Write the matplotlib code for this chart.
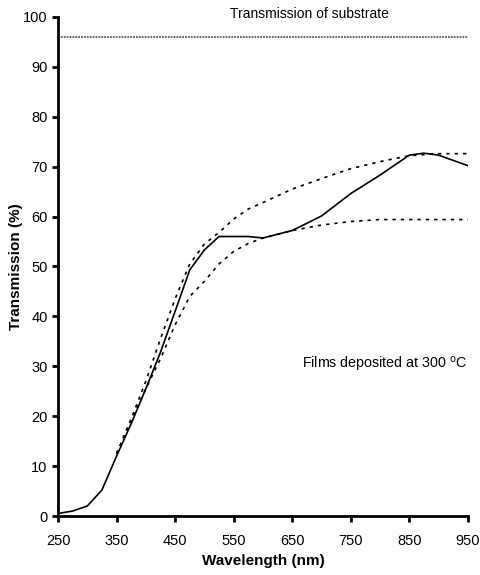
import matplotlib
matplotlib.use("Agg")
import matplotlib.pyplot as plt

plt.rcParams['font.family'] = ['Liberation Sans', 'DejaVu Sans']

# solid curve (measured film)
wl_solid = [250, 275, 300, 325, 350, 375, 400, 425, 450, 475, 500, 525, 575, 600,
            650, 700, 750, 800, 850, 875, 900, 950]
t_solid = [0.5, 1.0, 2.0, 5.2, 12.0, 18.5, 25.5, 32.8, 41.0, 49.3, 53.3, 56.0, 56.0, 55.7,
           57.2, 60.1, 64.6, 68.3, 72.3, 72.7, 72.3, 70.2]

# upper dotted fit
wl_up = [350, 375, 400, 425, 450, 475, 500, 525, 550, 575, 600, 650, 700, 750, 800, 850, 900, 950]
t_up = [12.5, 19.5, 27.0, 35.5, 43.5, 50.5, 54.5, 56.8, 59.5, 61.5, 62.8, 65.5, 67.6, 69.6,
        71.0, 72.2, 72.6, 72.6]

# lower dotted fit
wl_low = [350, 375, 400, 425, 450, 475, 500, 525, 550, 575, 600, 650, 700, 750, 800, 850, 900, 950]
t_low = [12.5, 19.0, 25.5, 31.5, 38.3, 44.0, 47.0, 50.5, 53.0, 54.6, 55.7, 57.2, 58.3, 59.0,
         59.4, 59.4, 59.4, 59.4]

substrate = 96.0

fig = plt.figure(figsize=(4.81, 5.75), dpi=100)
ax = fig.add_axes([0.1206, 0.1026, 0.852, 0.868])

ax.plot(wl_solid, t_solid, color='black', lw=1.2)
ax.plot(wl_up, t_up, color='black', lw=1.2, ls=(0, (2, 3)))
ax.plot(wl_low, t_low, color='black', lw=1.2, ls=(0, (2, 3)))
ax.axhline(substrate, color='0.35', lw=1.3, ls=(0, (1, 0.6)))

ax.text(680, 100.6, 'Transmission of substrate', ha='center', va='center', fontsize=10)
ax.text(666, 30.3, r'Films deposited at 300 $^{\rm o}$C', ha='left', va='center', fontsize=10.3)

ax.set_xlim(250, 950)
ax.set_ylim(0, 100)
ax.set_xticks(range(250, 951, 100))
ax.set_yticks(range(0, 101, 10))
ax.spines['top'].set_visible(False)
ax.spines['right'].set_visible(False)
ax.spines['left'].set_linewidth(2)
ax.spines['bottom'].set_linewidth(2)
ax.tick_params(direction='out', width=2, length=4, labelsize=10.5)
ax.tick_params(axis='x', pad=9)
ax.set_xlabel('Wavelength (nm)', fontsize=11, fontweight='bold', labelpad=4)
ax.set_ylabel('Transmission (%)', fontsize=11, fontweight='bold', labelpad=0)

fig.savefig('out.png', dpi=100)
